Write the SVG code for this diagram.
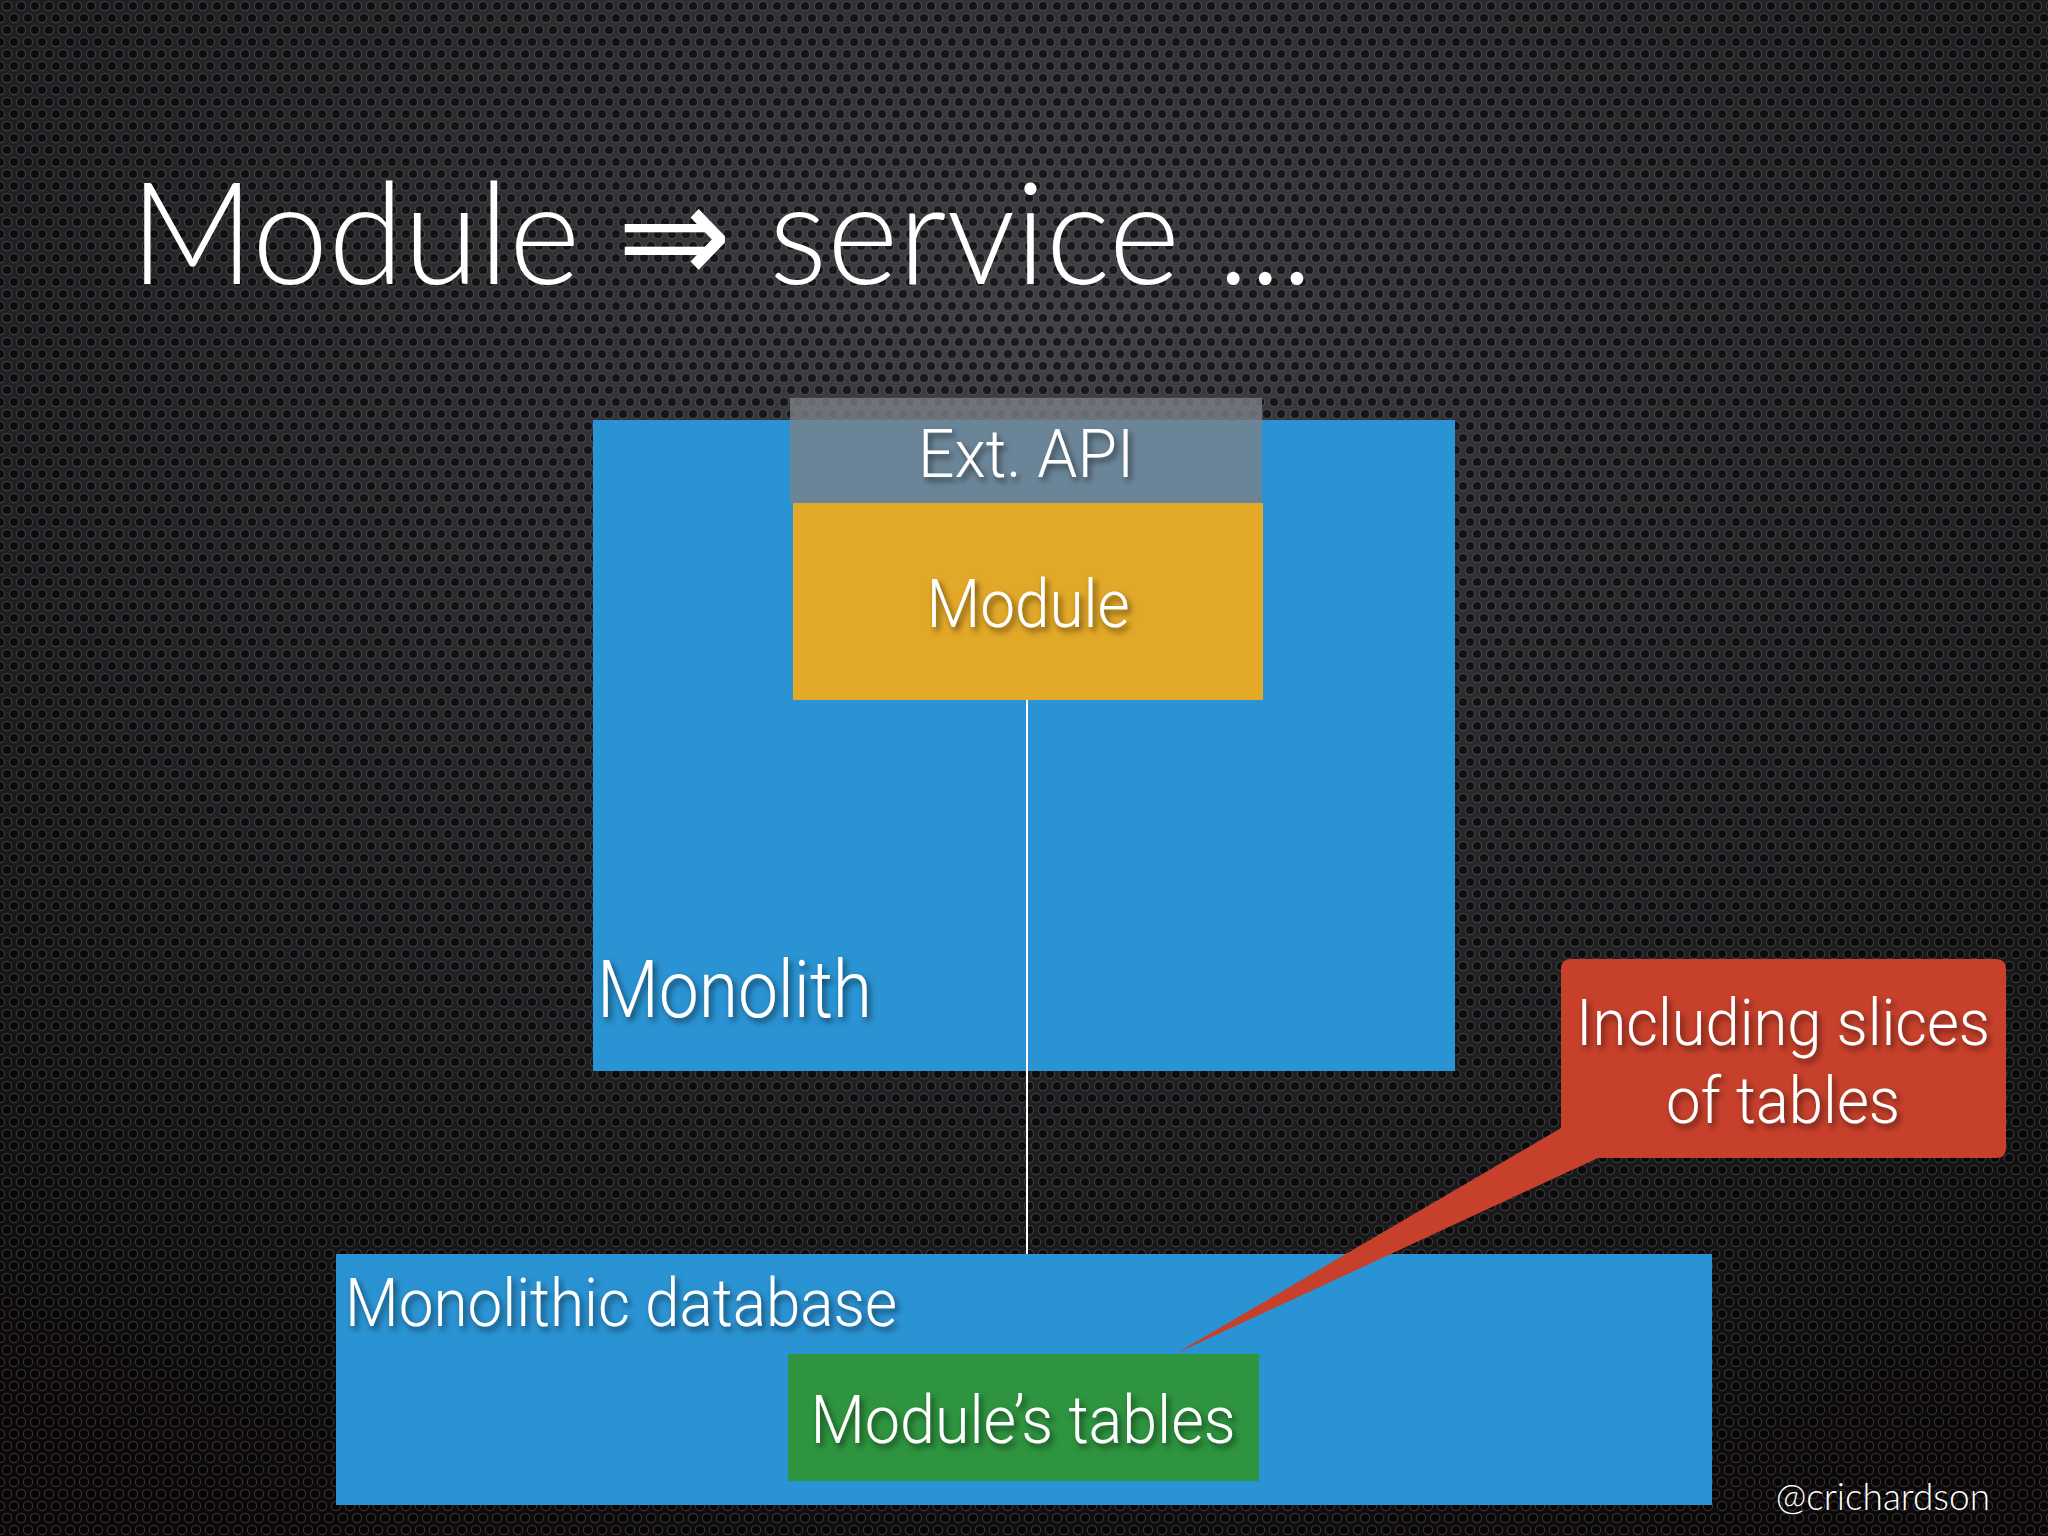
<svg xmlns="http://www.w3.org/2000/svg" width="2048" height="1536" viewBox="0 0 2048 1536">
  <defs>
    <radialGradient id="bg" cx="0.5" cy="0.22" r="0.85">
      <stop offset="0" stop-color="#424246"/>
      <stop offset="0.5" stop-color="#242427"/>
      <stop offset="1" stop-color="#0c0808"/>
    </radialGradient>
    <pattern id="holes" width="14" height="24" patternUnits="userSpaceOnUse">
      <circle cx="7" cy="6" r="4.6" fill="#000" fill-opacity="0.6" stroke="#70707a" stroke-opacity="0.4" stroke-width="1.2"/>
      <circle cx="0" cy="18" r="4.6" fill="#000" fill-opacity="0.6" stroke="#70707a" stroke-opacity="0.4" stroke-width="1.2"/>
      <circle cx="14" cy="18" r="4.6" fill="#000" fill-opacity="0.6" stroke="#70707a" stroke-opacity="0.4" stroke-width="1.2"/>
    </pattern>
    <filter id="ts" x="-10%" y="-30%" width="130%" height="170%">
      <feDropShadow dx="3" dy="4" stdDeviation="3" flood-color="#000" flood-opacity="0.55"/>
    </filter>
  </defs>
  <style>
    .lbl { font-family: "Roboto", "Liberation Sans", sans-serif; font-weight: 300; fill: #ffffff; }
    .gill { font-family: "Lato", "Open Sans", sans-serif; font-weight: 300; fill: #ffffff; }
    .blue { fill: #2a93d3; }
  </style>

  <rect x="0" y="0" width="2048" height="1536" fill="url(#bg)"/>
  <rect x="0" y="0" width="2048" height="1536" fill="url(#holes)"/>

  <g id="title">
    <text class="gill" x="130" y="284" font-size="142" textLength="1183" lengthAdjust="spacingAndGlyphs">Module ⇒ service ...</text>
  </g>

  <g id="monolith">
    <rect class="blue" x="593" y="420" width="862" height="651"/>
    <text class="lbl" x="597" y="1017" font-size="80" textLength="275" lengthAdjust="spacingAndGlyphs" filter="url(#ts)">Monolith</text>
  </g>

  <g id="monolithic-database">
    <rect class="blue" x="336" y="1254" width="1376" height="251"/>
    <text class="lbl" x="345" y="1326" font-size="67" textLength="552" lengthAdjust="spacingAndGlyphs" filter="url(#ts)">Monolithic database</text>
  </g>

  <g id="connectors">
    <line x1="1027" y1="700" x2="1027" y2="1254" stroke="#ffffff" stroke-width="2"/>
  </g>

  <g id="module">
    <rect x="793" y="503" width="470" height="197" fill="#e2a827"/>
    <text class="lbl" x="1028" y="627" font-size="67" text-anchor="middle" textLength="203" lengthAdjust="spacingAndGlyphs" filter="url(#ts)">Module</text>
  </g>

  <g id="ext-api">
    <rect x="790" y="398" width="472" height="105" fill="#7d8288" fill-opacity="0.78"/>
    <text class="lbl" x="1026" y="477" font-size="67" text-anchor="middle" textLength="216" lengthAdjust="spacingAndGlyphs" filter="url(#ts)">Ext. API</text>
  </g>

  <g id="modules-tables">
    <rect x="788" y="1354" width="471" height="127" fill="#2e943f"/>
    <text class="lbl" x="1023" y="1443" font-size="67" text-anchor="middle" textLength="425" lengthAdjust="spacingAndGlyphs" filter="url(#ts)">Module’s tables</text>
  </g>

  <g id="callout">
    <path d="M1571 959 H1996 Q2006 959 2006 969 V1148 Q2006 1158 1996 1158 H1598 L1175 1354 L1561 1128 V969 Q1561 959 1571 959 Z" fill="#c7402b"/>
    <text class="lbl" x="1783" y="1045" font-size="65" text-anchor="middle" textLength="414" lengthAdjust="spacingAndGlyphs" filter="url(#ts)">Including slices</text>
    <text class="lbl" x="1783" y="1123" font-size="65" text-anchor="middle" textLength="234" lengthAdjust="spacingAndGlyphs" filter="url(#ts)">of tables</text>
  </g>

  <g id="footer">
    <text class="gill" x="1990" y="1510" font-size="37" text-anchor="end">@crichardson</text>
  </g>
</svg>
